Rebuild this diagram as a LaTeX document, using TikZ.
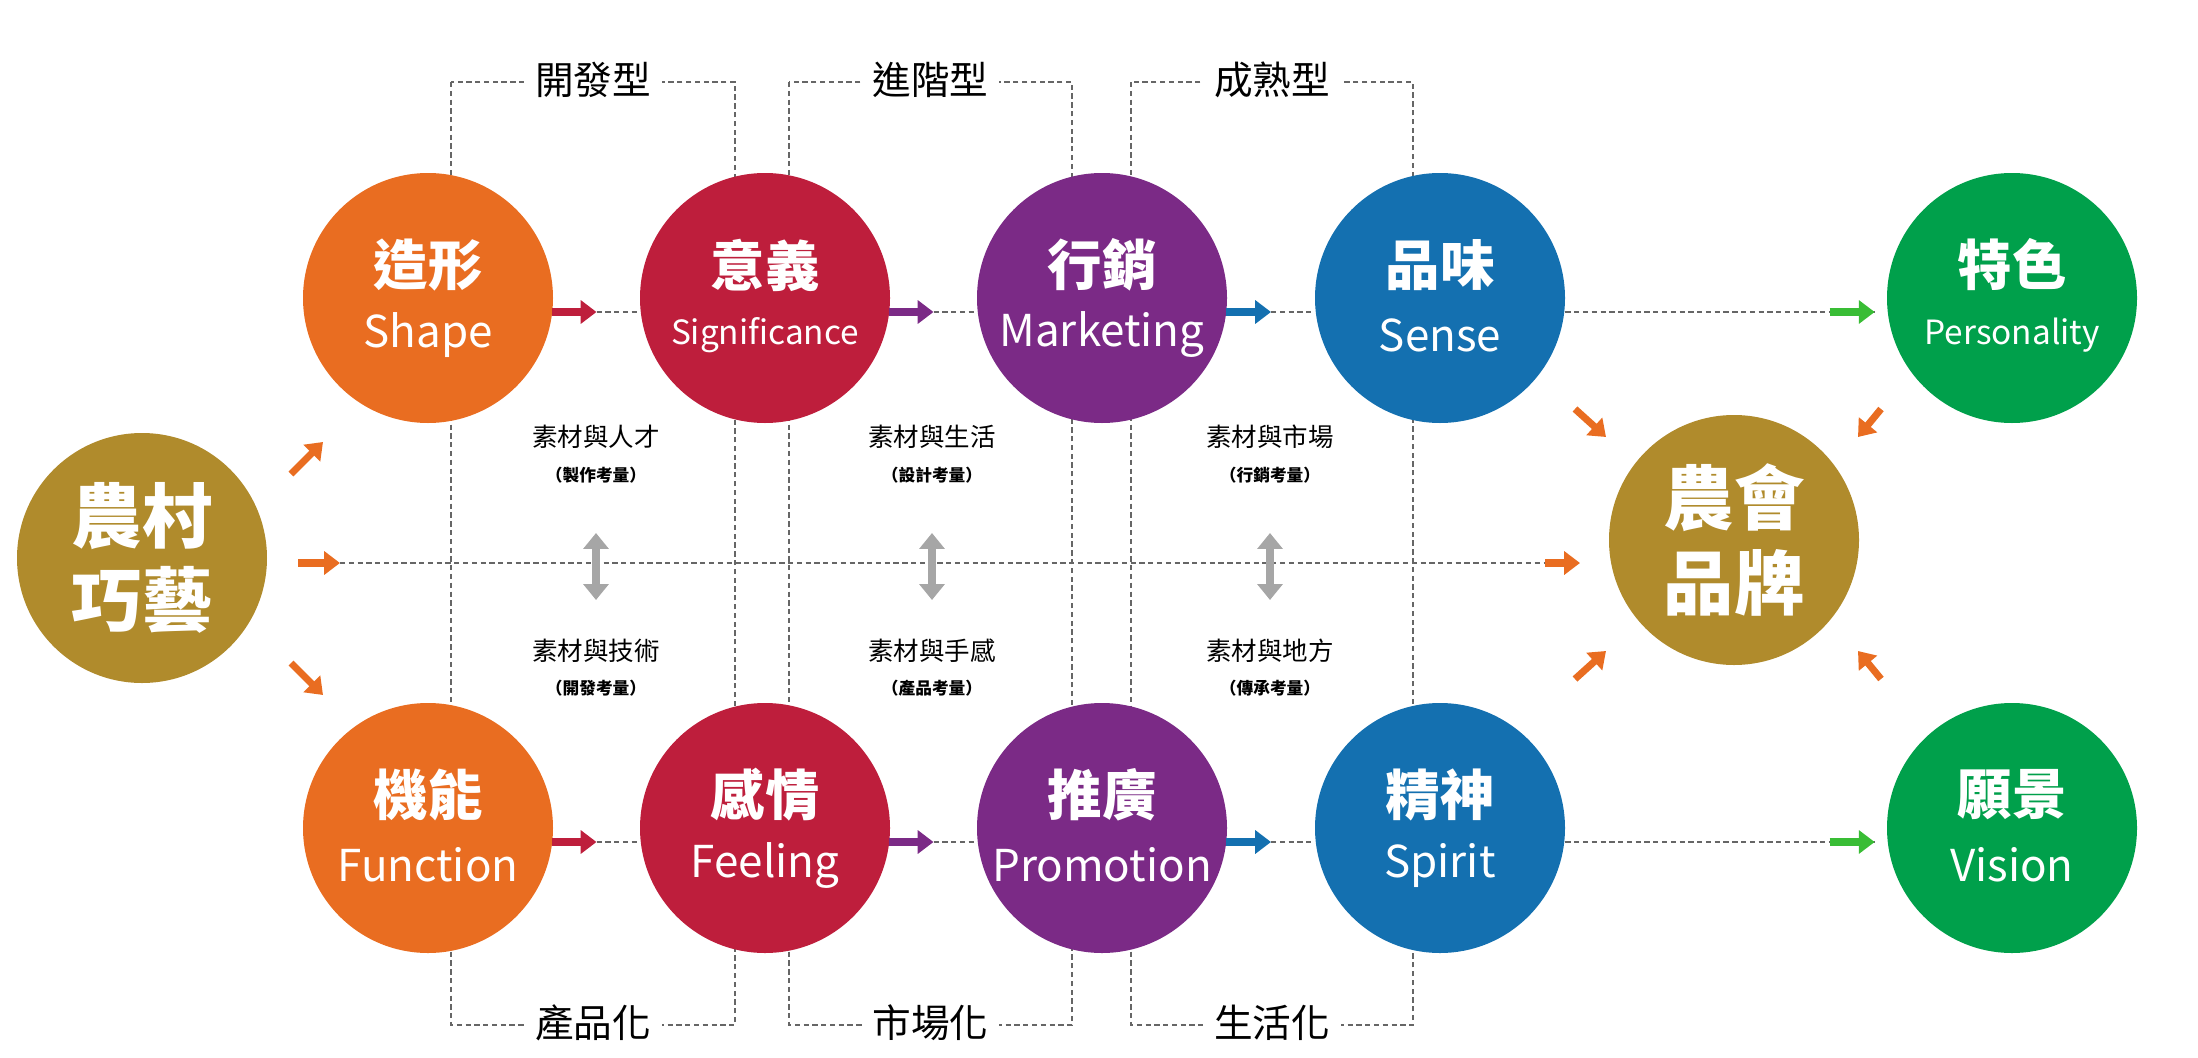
\documentclass[tikz,border=0pt]{standalone}
\usepackage{fontspec}
\setmainfont{Noto Sans CJK TC}
\usetikzlibrary{arrows.meta,positioning,calc}
\definecolor{orng}{HTML}{E96D21}
\definecolor{crim}{HTML}{BE1E3C}
\definecolor{purp}{HTML}{7B2A86}
\definecolor{blu}{HTML}{1470B0}
\definecolor{grn}{HTML}{00A04B}
\definecolor{gold}{HTML}{B08B2C}
\tikzset{
  ball/.style={circle, fill=#1, minimum size=250*0.02cm, inner sep=0pt},
  zh/.style={text=white, font=\bfseries\fontsize{31}{31}\selectfont},
  en/.style={text=white, font=\fontsize{25}{25}\selectfont},
  grid/.style={densely dashed, line width=0.6pt, gray!80!black},
  flow/.style={line width=4pt, draw=#1, -{Triangle[length=9pt,width=13pt]}},
  frametag/.style={fill=white, inner xsep=6pt, font=\fontsize{22}{22}\selectfont},
  pair/.style={font=\fontsize{14.5}{14.5}\selectfont},
  note/.style={font=\bfseries\fontsize{9.5}{9.5}\selectfont},
  both/.style={line width=5pt, gray!70, {Triangle[length=9pt,width=14pt]}-{Triangle[length=9pt,width=14pt]}},
}
% circle with a two-line label
\newcommand{\bubble}[6]{%
  \node[ball=#4] (#1) at (#2,#3) {};
  \node[zh] at ($(#1.center)+(0,-33)$) {#5};
  \node[en] at ($(#1.center)+(0,37)$) {#6};
}
\begin{document}
\begin{tikzpicture}[x=0.02cm, y=-0.02cm]
    \useasboundingbox (0,0) rectangle (2198,1058);

    % dashed frames
    \foreach \xa/\xb/\tp/\bt in {451/735/開發型/產品化, 789/1072/進階型/市場化, 1131/1413/成熟型/生活化} {
        \draw[grid] (\xa,82) rectangle (\xb,1025);
        \node[frametag] at ({(\xa+\xb)/2},80) {\tp};
        \node[frametag] at ({(\xa+\xb)/2},1023) {\bt};
    }
    \draw[grid] (340,563) -- (1545,563);

    % circles
    \bubble{shape}{428}{298}{orng}{造形}{Shape}
    \bubble{signif}{765}{298}{crim}{意義}{\fontsize{19}{19}\selectfont Significance}
    \bubble{market}{1102}{298}{purp}{行銷}{Marketing}
    \bubble{sense}{1440}{298}{blu}{品味}{Sense}
    \bubble{person}{2012}{298}{grn}{特色}{\fontsize{19}{19}\selectfont Personality}
    \bubble{func}{428}{828}{orng}{機能}{Function}
    \bubble{feel}{765}{828}{crim}{感情}{Feeling}
    \bubble{promo}{1102}{828}{purp}{推廣}{Promotion}
    \bubble{spirit}{1440}{828}{blu}{精神}{Spirit}
    \bubble{vision}{2012}{828}{grn}{願景}{Vision}
    \node[ball=gold] (craft) at (142,558) {};
    \node[zh, font=\bfseries\fontsize{40}{48}\selectfont, align=center] at (craft) {農村\\巧藝};
    \node[ball=gold] (brand) at (1734,540) {};
    \node[zh, font=\bfseries\fontsize{40}{48}\selectfont, align=center] at (brand) {農會\\品牌};

    % flows between rows of circles
    \foreach \a/\b/\c in {shape/signif/crim, signif/market/purp, market/sense/blu,
                          func/feel/crim, feel/promo/purp, promo/spirit/blu} {
        \coordinate (t) at ($(\a.east)!0.5!(\b.west)+(0,14)$);
        \draw[grid] (t) -- ($(\b.west)+(0,14)$);
        \draw[flow=\c] ($(t)+(-45,0)$) -- (t);
    }
    \foreach \a/\b in {sense/person, spirit/vision} {
        \coordinate (t) at ($(\b.west)+(-12,14)$);
        \draw[grid] ($(\a.east)+(0,14)$) -- (t);
        \draw[flow=grn!70!lime] ($(t)+(-45,0)$) -- (t);
    }

    % arrows out of the left circle
    \draw[flow=orng] (291,474) -- (323,442);
    \draw[flow=orng] (298,563) -- (340,563);
    \draw[flow=orng] (291,663) -- (323,695);

    % arrows into the brand circle
    \draw[flow=orng] (1545,563) -- (1580,563);
    \draw[flow=orng] (1575,409) -- (1606,437);
    \draw[flow=orng] (1881,409) -- (1858,437);
    \draw[flow=orng] (1575,679) -- (1606,651);
    \draw[flow=orng] (1881,679) -- (1858,651);

    % middle notes
    \foreach \x/\up/\upn/\dn/\dnn in {596/素材與人才/製作考量/素材與技術/開發考量,
                                       932/素材與生活/設計考量/素材與手感/產品考量,
                                       1270/素材與市場/行銷考量/素材與地方/傳承考量} {
        \node[pair] at (\x,437) {\up};
        \node[note] at (\x,475) {（\upn）};
        \draw[both] (\x,533) -- (\x,600);
        \node[pair] at (\x,651) {\dn};
        \node[note] at (\x,688) {（\dnn）};
    }
\end{tikzpicture}
\end{document}
